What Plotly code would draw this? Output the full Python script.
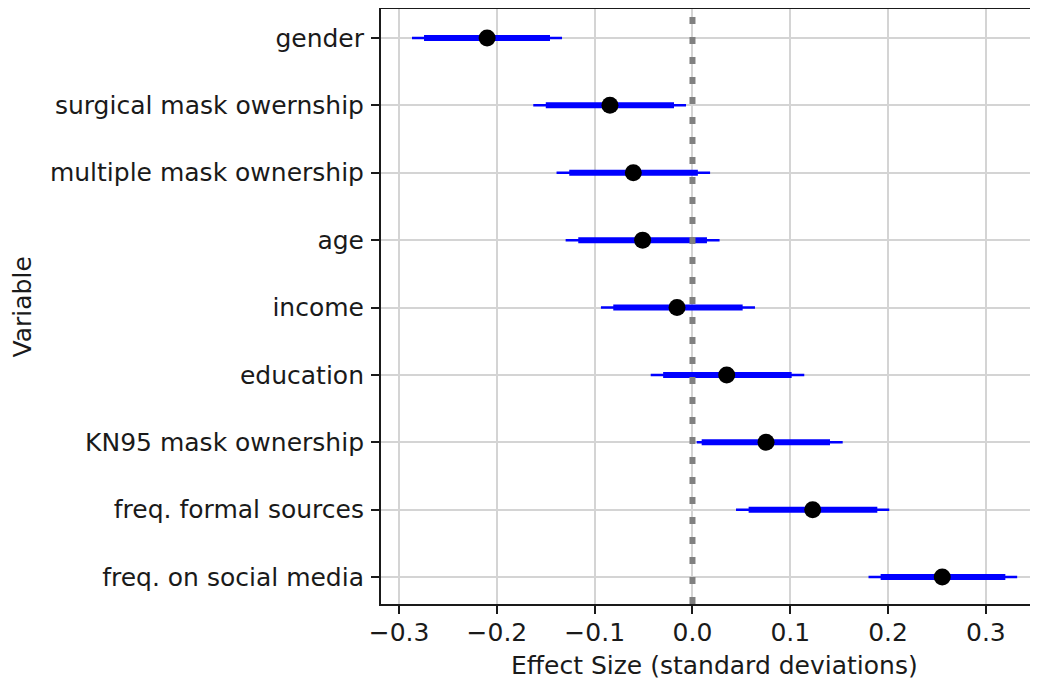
import plotly.graph_objects as go

variables = ["gender", "surgical mask owernship", "multiple mask ownership", "age",
             "income", "education", "KN95 mask ownership", "freq. formal sources",
             "freq. on social media"]
effect = [-0.210, -0.0844, -0.0605, -0.051, -0.0158, 0.035, 0.0752, 0.1229, 0.2554]
thick_lo = [-0.2745, -0.150, -0.126, -0.1168, -0.081, -0.030, 0.0094, 0.0574, 0.1924]
thick_hi = [-0.1457, -0.0189, 0.0055, 0.0148, 0.0513, 0.1014, 0.1406, 0.189, 0.3199]
thin_lo = [-0.2868, -0.1628, -0.139, -0.1297, -0.0936, -0.0427, 0.0043, 0.0445, 0.180]
thin_hi = [-0.1334, -0.0066, 0.018, 0.0277, 0.0639, 0.1143, 0.1536, 0.2012, 0.332]
xticks = [-0.3, -0.2, -0.1, 0.0, 0.1, 0.2, 0.3]
xtick_labels = ["\u22120.3", "\u22120.2", "\u22120.1", "0.0", "0.1", "0.2", "0.3"]

FONT = "DejaVu Sans"
fig = go.Figure()

def segs(lo, hi):
    xs, ys = [], []
    for v, a, b in zip(variables, lo, hi):
        xs += [a, b, None]
        ys += [v, v, None]
    return xs, ys

tx, ty = segs(thin_lo, thin_hi)
fig.add_trace(go.Scatter(x=tx, y=ty, mode="lines", line=dict(color="#0000ff", width=2.5),
                         showlegend=False, hoverinfo="skip"))
kx, ky = segs(thick_lo, thick_hi)
fig.add_trace(go.Scatter(x=kx, y=ky, mode="lines", line=dict(color="#0000ff", width=6),
                         showlegend=False, hoverinfo="skip"))
fig.add_trace(go.Scatter(x=effect, y=variables, mode="markers",
                         marker=dict(color="black", size=17, line=dict(width=0)),
                         showlegend=False))

fig.add_shape(type="line", xref="x", yref="paper", x0=0, x1=0, y0=0, y1=1,
              line=dict(color="#808080", width=6, dash="7px,13px"), layer="above")

fig.update_layout(
    width=1030, height=673,
    margin=dict(l=373, r=0, t=1, b=77),
    plot_bgcolor="white", paper_bgcolor="white",
    font=dict(family=FONT, size=25, color="#1a1a1a"),
    xaxis=dict(range=[-0.3185, 0.3533], tickvals=xticks, ticktext=xtick_labels,
               showgrid=True, gridcolor="#d4d4d4", gridwidth=2,
               showline=True, linecolor="#1a1a1a", linewidth=2, mirror=True,
               ticks="outside", ticklen=8, tickwidth=2, tickcolor="#1a1a1a",
               zeroline=False, tickfont=dict(size=25), ticklabelstandoff=-3),
    yaxis=dict(categoryorder="array", categoryarray=variables,
               range=[8.4, -0.43],
               showgrid=True, gridcolor="#d4d4d4", gridwidth=2,
               showline=True, linecolor="#1a1a1a", linewidth=2,
               ticks="outside", ticklen=8, tickwidth=2, tickcolor="#1a1a1a",
               zeroline=False, tickfont=dict(size=25), ticklabelstandoff=2),
    annotations=[
        dict(text="Effect Size (standard deviations)", xref="paper", yref="paper",
             x=0.507, y=0, yshift=-61, xanchor="center", yanchor="middle",
             showarrow=False, font=dict(size=25)),
        dict(text="Variable", xref="paper", yref="paper", x=-0.545, y=0.5,
             xanchor="center", yanchor="middle", textangle=-90,
             showarrow=False, font=dict(size=25)),
    ],
)

fig.write_html("out.html")
